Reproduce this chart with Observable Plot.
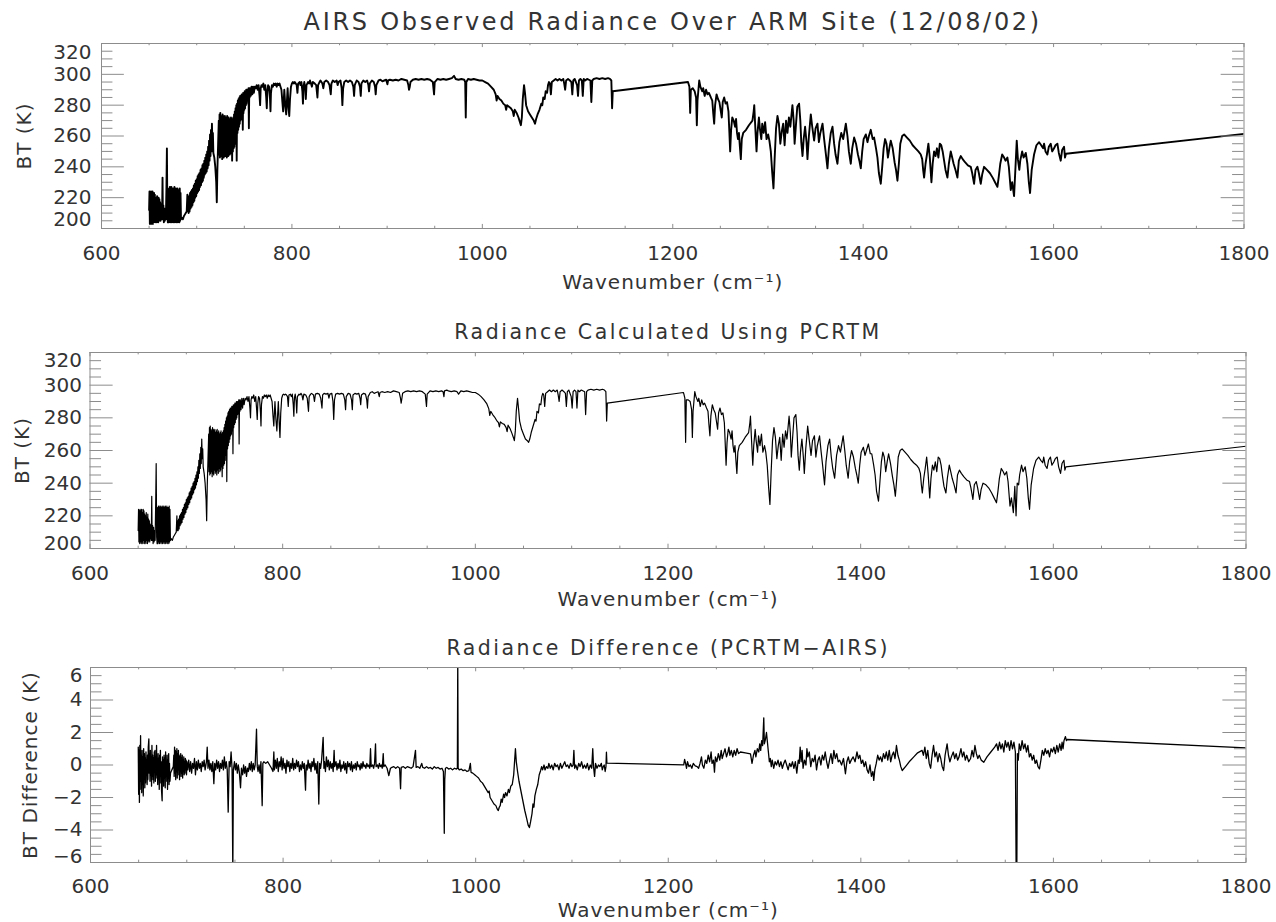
<!DOCTYPE html>
<html><head><meta charset="utf-8">
<script src="https://cdn.jsdelivr.net/npm/d3@7"></script>
<script src="https://cdn.jsdelivr.net/npm/@observablehq/plot@0.6"></script>
<style>
body{margin:0;background:#fff;}
#chart{width:1276px;}
#chart svg{display:block;}
</style></head><body><div id="chart"></div>
<script>
// AIRS observed brightness temperature [wavenumber cm-1, BT K]
const airsObs = [
[650,212],[650.4,224],[650.8,203],[651.2,223],[651.6,204],[652,224],[652.4,203],[652.8,222],[653.2,205],[653.6,224],
[654,203],[654.4,221],[654.8,204],[655.2,223],[655.6,206],[656,222],[656.4,204],[656.8,220],[657.2,205],[657.6,219],
[658,204],[658.4,221],[658.8,206],[659.2,218],[659.6,204],[660,220],[660.4,205],[660.8,219],[661.2,206],[661.6,217],
[662,205],[662.4,216],[662.8,207],[663.2,214],[663.6,206],[664.1,233],[664.5,206],[665,215],[665.5,204],[666,213],
[666.5,205],[667,212],[667.6,206],[668.2,226],[668.7,252],[669.2,208],[669.7,204],
[670.2,224],[670.6,204],[671,226],[671.4,205],[671.8,227],[672.2,204],[672.6,225],[673,205],[673.4,227],[673.8,204],
[674.2,224],[674.6,206],[675,226],[675.4,204],[675.8,225],[676.2,205],[676.6,227],[677,204],[677.4,224],[677.8,205],
[678.2,226],[678.6,204],[679,225],[679.4,206],[679.8,226],[680.2,204],[680.6,225],[681,205],[681.4,224],[681.8,204],
[682.2,226],[682.6,205],[683,223],[683.5,206],
[684.5,207],[685.5,206],[686.5,208],[687.5,209],[688.5,210],[689.5,211],[690.2,222],[690.6,212],
[691,220],[691.5,210],[692,221],[692.5,211],[693,223],[693.5,213],[694,224],[694.5,214],[695,225],[695.5,215],
[696,226],[696.5,217],[697,228],[697.5,218],[698,229],[698.5,220],[699,231],[699.5,221],[700,232],[700.5,223],
[701,234],[701.5,224],[702,235],[702.5,225],[703,236],[703.5,227],[704,238],[704.5,228],[705,239],[705.5,230],
[706,241],[706.5,231],[707,242],[707.5,233],[708,244],[708.5,235],[709,246],[709.5,236],[710,248],[710.5,237],
[711,250],[711.5,239],[712,253],[712.5,241],[713,257],[713.5,244],[714,261],[714.5,247],[715,264],[715.5,250],
[716,268],[716.5,254],[717,262],[717.5,249],[718.5,246],[719.5,240],[720.5,230],[721.1,217],[721.7,238],[722.5,255],[723.2,270],
[723.6,248],[724,274],[724.4,246],[724.8,275],[725.2,247],[725.6,273],[726,248],[726.4,272],[726.8,245],[727.2,274],
[727.6,247],[728,273],[728.4,246],[728.8,272],[729.2,249],[729.6,273],[730,247],[730.4,271],[730.8,248],[731.2,272],
[731.6,246],[732,273],[732.4,249],[732.8,271],[733.2,247],[733.6,272],[734,250],[734.4,270],[734.8,248],[735.2,271],
[735.6,249],[736,272],[736.4,251],[736.8,270],[737.2,244],[737.6,271],[738,250],[738.4,272],[738.8,252],[739.2,274],
[739.6,253],[740,276],[740.4,255],[740.8,278],
[741.2,258],[741.6,280],[742,244],[742.4,281],[742.8,262],[743.2,283],[743.6,264],[744,284],[744.4,266],[744.8,285],
[745.2,268],[745.6,286],[746,270],[746.4,286],[746.8,271],[747.2,287],[747.6,273],[748,287],[748.4,264],[748.8,288],
[749.2,275],[749.6,288],[750,277],[750.4,289],[750.8,278],[751.2,289],[751.6,280],[752,290],[752.4,281],[752.8,290],
[753.2,283],[753.6,290],[754,284],[754.4,291],[754.8,265],[755.2,291],[755.6,285],[756,291],[756.8,286],[757.6,292],
[758.4,287],[759.2,292],[760,288],
[761,292],[762,291],[763,293],[764,290],[765,293],[766,286],[766.6,280],[767.2,291],[768,293],[769,292],
[770,294],[771,290],[772,293],[773,285],[773.6,278],[774.2,289],[775,293],[776,292],[777,284],[777.5,276],
[778,288],[779,293],[780,292],[781,294],[782,293],[783,294],[784,292],[785,294],[786,293],[787,294],
[788,292],[789,290],[790,282],[790.8,276],[791.5,284],[792,290],[793,280],[794,274],[794.7,282],[795.5,291],
[796.5,278],[797.2,273],[798,284],[799,292],[800,294],
[801,295],[802,294],[803,295],[804,294],[805,293],[805.8,288],[806.5,294],[808,295],[809,293],[810,295],
[811,289],[811.6,281],[812.2,292],[813,295],[814,291],[814.6,284],[815.3,293],[817,295],[818,294],[819,296],
[820,294],[821,292],[822,295],[824,294],[825.5,293],[826.8,285],[827.5,293],[829,295],[830,296],[832,294],
[833,291],[834,295],[836,296],[838,295],[839.5,293],[840.8,287],[841.5,294],[843,296],[845,295],[847,296],
[848,293],[849,295],[851,296],[852.2,291],[853,280],[853.8,291],[855,295],[857,296],[859,295],[861,296],
[863,295],[864.5,292],[865.3,286],[866,293],[868,296],[870,295],[871.5,292],[872.3,286],[873,294],[875,296],
[877,295],[879,296],[880.3,293],[881,289],[881.8,294],[884,296],[886,295],[887.3,292],[888,287],[888.7,293],
[891,296],[893,296.5],[895,295.5],[897,296],[899,296.5],[900.3,293.5],[901,296],[903,296.5],[906,296],[909,296.5],
[912,296],[915,297],[918,296.5],[921,296],[922.3,293],[923,290],[923.8,292],[924.5,295],[927,296.5],[930,297],
[933,296.5],[936,297],[939,296.5],[942,297],[945,296.5],[948,295],[949.3,287],[950,295],[953,297],[956,296.5],
[959,297],[962,296.5],[965,297],[968,297.5],[970.3,299],[972,297],[975,296.5],[978,297],[981,296.5],[982,295],
[982.6,272],[983.2,295],[985,297],[988,296.5],[991,297],[994,296.5],[997,296],
[1000,296],[1003,295],[1006,294],[1009,292],[1012,290],[1014,287],[1015,283],[1016,286],[1018,284],[1020,283],
[1022,281],[1024,280],[1025,277],[1026,280],[1028,279],[1030,278],[1032,276],[1033,273],[1034,277],[1036,275],
[1038,272],[1039.5,269],[1040.5,267],[1041.5,272],[1042.5,284],[1043.8,293],[1044.8,288],[1046,280],[1048,276],[1050,274],
[1052,272],[1054,270],[1055.3,268],[1056.5,271],[1058,274],[1060,277],[1062,281],[1063,280],[1064,285],[1065.5,284],
[1066.5,289],[1068,288],
[1069,293],[1070,295],[1071,294],[1072,287],[1073,295],[1075,296],[1077,297],[1079,296],[1081,297],[1083,296],
[1085,297],[1086,294],[1087,290],[1088,296],[1090,297],[1092,296],[1093.5,295],[1094.5,287],[1095.5,296],[1097,297],
[1099.5,293],[1100.5,286],[1101.5,296],[1103,297],[1104.5,296],[1105.5,286],[1106.5,297],[1108,296],[1110,297],[1113.5,296],
[1114.5,282],[1115.5,296],[1117,297],[1120,297.5],[1123,297],[1126,297.5],[1129,297],[1132,297.5],[1134,297],[1135.5,296],
[1136.3,278],[1137,289],
[1216,295],[1216.5,294],[1217.5,292],[1218.3,275],[1219,290],[1221,291],[1223,289],[1224.5,285],[1225.3,267],[1226,283],
[1227.8,296],[1229,292],[1231,289],[1232,291],[1233.5,286],[1235,290],[1236.5,287],[1238,288],[1240,285],[1241.5,283],
[1242.5,275],[1243.5,268],[1244.5,280],[1246,287],[1247.5,284],[1249,282],[1250.5,276],[1251.5,272],[1252.5,282],[1254,285],
[1255.5,281],[1257,282],[1258.5,276],[1259.5,262],[1260.3,250],[1261.3,264],[1262.5,272],[1264,270],[1265.5,266],[1266.5,271],
[1267.5,262],[1268.5,258],[1269.5,262],[1270.5,253],[1271.5,245],[1272.5,258],[1274,262],[1277,264],[1280,267],[1283.7,270],
[1285,276],[1285.6,280],[1286.5,268],[1288,250],[1289,262],[1290.5,272],[1291.5,265],[1293,258],[1294,268],[1295.5,262],
[1297,269],[1298.5,258],[1300.2,261],[1301.5,257],[1303,250],[1304.5,236],[1305.8,226],[1307,245],[1308.5,265],[1310,273],
[1311.5,268],[1313,255],[1314.5,263],[1316,268],[1317.5,254],[1319,270],[1320.5,262],
[1322,272],[1323.5,266],[1325.7,280],[1327,270],[1328,255],[1329.5,268],[1330.8,279],[1332.7,281],[1334,270],[1335,256],
[1336.3,247],[1337.5,258],[1339,266],[1340.5,256],[1341.5,245],[1343,260],[1345,274],[1346.5,266],[1348.5,257],[1350,265],
[1352,268],[1353.5,256],[1355,262],[1357.3,268],[1359,258],[1360.5,250],[1362.5,239],[1364,252],[1366,262],[1367.8,266],
[1369.5,255],[1371,248],[1373,242],[1375,256],[1377,262],[1379,258],[1381.8,268],[1383.5,260],[1385,250],[1387,242],
[1388.5,252],[1390.5,259],[1392.5,255],[1394.5,248],[1396,244],[1397.5,239],[1399,250],[1400.5,258],[1402.8,261],[1404.5,256],
[1406,260],[1408,264],[1410,258],[1411.5,259],[1413.5,252],[1415,246],[1416.5,236],[1418.5,229],[1420,240],
[1421.5,252],[1423,258],[1424.5,255],[1426,246],[1427.5,252],[1429,257],[1431,252],[1433,243],[1434.5,238],[1436,231],
[1437.5,242],[1439,255],[1441,260],[1443,261],[1446,259],[1449,257],[1452,254],[1455,252],[1458,250],[1460.5,248],
[1462,245],[1463,238],[1464,233],[1465.5,242],[1467,248],[1468.5,255],[1470,246],[1471.7,230],[1473,242],
[1474.5,250],[1476,247],[1477.5,252],[1479,246],[1480.5,255],[1482,254],[1483.5,250],[1485,244],[1486.5,238],[1488.5,233],
[1490,242],[1492,250],[1493.5,246],[1495,242],[1497,238],[1499,233],[1500.5,244],[1502.5,247],[1504.5,245],[1507,243],
[1510,241],[1513,240],[1514.5,236],[1516.5,229],[1518,238],[1520,240],[1521.5,236],[1523.5,229],[1525,235],[1527,240],
[1530,238],[1533,236],[1536,233],[1538.5,230],[1541,227],[1542.5,234],[1544,242],[1546,248],[1548,246],[1549.5,244],
[1551.5,246],[1553,240],[1555,225],[1556.5,230],[1558.5,221],[1560,240],[1561.3,257],[1562.5,245],[1564,238],[1565,244],
[1567,250],[1568.5,246],[1570.8,249],[1572.5,242],[1574,230],[1575.3,223],[1577,238],[1579.5,248],[1582,254],[1584.8,256],
[1587,254],[1589,252],[1590,255],[1591.5,250],[1593.5,248],[1595,253],[1597,255],[1598.5,250],[1600.5,252],[1602,254],
[1604,255],[1605.5,249],[1607.5,244],[1609,251],[1611,253],[1612,246],[1613,248.5],[1800,261.4]
];

// PCRTM calculated brightness temperature [wavenumber cm-1, BT K]
const pcrtmCalc = [
[650,211],[650.4,224],[650.8,204],[651.2,223],[651.6,203],[652,224],[652.4,204],[652.8,223],[653.2,203],[653.6,224],
[654,204],[654.4,222],[654.8,203],[655.2,224],[655.6,205],[656,223],[656.4,203],[656.8,221],[657.2,204],[657.6,220],
[658,203],[658.4,222],[658.8,205],[659.2,219],[659.6,203],[660,221],[660.4,204],[660.8,218],[661.2,205],[661.6,217],
[662,204],[662.4,215],[662.8,206],[663.2,214],[663.6,205],[664.1,232],[664.5,205],[665,214],[665.5,203],[666,213],
[666.5,204],[667,211],[667.6,205],[668.2,228],[668.7,252],[669.2,207],[669.7,203],
[670.2,225],[670.6,203],[671,226],[671.4,204],[671.8,226],[672.2,203],[672.6,225],[673,204],[673.4,226],[673.8,203],
[674.2,225],[674.6,204],[675,226],[675.4,203],[675.8,225],[676.2,204],[676.6,226],[677,203],[677.4,225],[677.8,204],
[678.2,226],[678.6,203],[679,225],[679.4,204],[679.8,226],[680.2,203],[680.6,225],[681,204],[681.4,225],[681.8,203],
[682.2,226],[682.6,204],[683,224],[683.5,205],
[684.5,206],[685.5,205],[686.5,207],[687.5,208],[688.5,209],[689.5,210],[690.2,220],[690.6,211],
[691,217],[691.5,211],[692,218],[692.5,212],[693,220],[693.5,214],[694,221],[694.5,215],[695,222],[695.5,216],
[696,224],[696.5,218],[697,225],[697.5,219],[698,227],[698.5,221],[699,228],[699.5,222],[700,230],[700.5,224],
[701,231],[701.5,225],[702,232],[702.5,227],[703,234],[703.5,228],[704,235],[704.5,230],[705,237],[705.5,231],
[706,238],[706.5,233],[707,240],[707.5,234],[708,241],[708.5,236],[709,243],[709.5,237],[710,245],[710.5,239],
[711,247],[711.5,241],[712,250],[712.5,243],[713,254],[713.5,246],[714,258],[714.5,249],[715,262],[715.5,252],
[716,267],[716.5,255],[717,261],[717.5,250],[718.5,246],[719.5,240],[720.5,230],[721.1,217],[721.7,238],[722.5,255],[723.2,270],
[723.6,247],[724,274],[724.4,245],[724.8,275],[725.2,246],[725.6,273],[726,247],[726.4,272],[726.8,244],[727.2,274],
[727.6,246],[728,273],[728.4,245],[728.8,272],[729.2,248],[729.6,273],[730,246],[730.4,271],[730.8,247],[731.2,272],
[731.6,245],[732,273],[732.4,248],[732.8,271],[733.2,246],[733.6,272],[734,249],[734.4,270],[734.8,247],[735.2,271],
[735.6,248],[736,272],[736.4,250],[736.8,270],[737.2,244],[737.6,271],[738,249],[738.4,272],[738.8,251],[739.2,274],
[739.6,252],[740,276],[740.4,254],[740.8,278],
[741.2,257],[741.6,280],[742,241],[742.4,281],[742.8,261],[743.2,283],[743.6,263],[744,284],[744.4,265],[744.8,285],
[745.2,267],[745.6,286],[746,269],[746.4,286],[746.8,270],[747.2,287],[747.6,272],[748,287],[748.4,258],[748.8,288],
[749.2,274],[749.6,288],[750,276],[750.4,289],[750.8,277],[751.2,289],[751.6,279],[752,290],[752.4,280],[752.8,290],
[753.2,282],[753.6,290],[754,283],[754.4,291],[754.8,264],[755.2,291],[755.6,284],[756,291],[756.8,285],[757.6,292],
[758.4,286],[759.2,292],[760,288],
[761,292],[762,291],[763,293],[764,290],[765,293],[766,286],[766.6,280],[767.2,291],[768,293],[769,292],
[770,294],[771,290],[772,293],[773,285],[773.6,279],[774.2,289],[775,293],[776,292],[777,283],[777.5,275],
[778,288],[779,293],[780,292],[781,294],[782,293],[783,294],[784,292],[785,294],[786,293],[787,294],
[788,292],[789,290],[790,281],[790.8,275],[791.5,284],[792,290],[793,279],[794,272],[794.7,281],[795.5,290],
[796.5,276],[797.2,268],[798,283],[799,292],[800,294],
[801,294.5],[802,294],[803,294.5],[804,294],[805,293],[805.8,287],[806.5,294],[808,294.5],[809,293],[810,294.5],
[811,288],[811.6,281],[812.2,292],[813,294.5],[814,290],[814.6,283],[815.3,293],[817,294.5],[818,294],[819,295],
[820,294],[821,291],[822,294.5],[824,294],[825.5,292],[826.8,284],[827.5,293],[829,294.5],[830,295],[832,294],
[833,290],[834,294.5],[836,295],[838,294.5],[839.5,292],[840.8,286],[841.5,294],[843,295],[845,294.5],[847,295],
[848,292],[849,294.5],[851,295],[852.2,290],[853,279],[853.8,291],[855,294.5],[857,295],[859,294.5],[861,295],
[863,294.5],[864.5,291],[865.3,285],[866,293],[868,295],[870,294.5],[871.5,291],[872.3,285],[873,294],[875,295],
[877,294.5],[879,295],[880.3,292],[881,288],[881.8,294],[884,295],[886,294.5],[887.3,291],[888,286],[888.7,293],
[891,295.5],[893,296],[895,295],[897,295.5],[899,296],[900.3,293],[901,295.5],[903,296],[906,295.5],[909,296],
[912,295.5],[915,296.5],[918,296],[921,295.5],[922.3,292],[923,289],[923.8,292],[924.5,295],[927,296],[930,296.5],
[933,296],[936,296.5],[939,296],[942,296.5],[945,296],[948,294.5],[949.3,287],[950,294.5],[953,296.5],[956,296],
[959,296.5],[962,296],[965,296.5],[966.5,296],[967.4,293],[968,296.5],[970.3,297],[972,296.5],[975,296],[978,296.5],
[981,296],[982.6,294.5],[985,296.5],[988,296],[991,296.5],[994,296],[997,295.5],
[1000,295.5],[1003,294.5],[1006,293],[1009,291],[1012,288.5],[1014,285.5],[1015,281.5],[1016,284],[1018,282],[1020,280.5],
[1022,278.5],[1024,277],[1025,274.5],[1026,277.5],[1028,276.5],[1030,276],[1032,274],[1033,271.5],[1034,275.5],[1036,273.5],
[1038,270.5],[1039.5,268],[1040.5,266],[1041.5,272],[1042.5,284],[1043.8,292],[1044.8,286],[1046,278],[1048,273],[1050,270],
[1052,267],[1054,266],[1055.3,265],[1056.5,267],[1058,271],[1060,275],[1062,279],[1063,278],[1064,284],[1065.5,283],
[1066.5,288.5],[1068,288],
[1069,293],[1070,295],[1071,294],[1072,287],[1073,295],[1075,296],[1077,297],[1079,296],[1081,297],[1083,296],
[1085,297],[1086,294],[1087,290],[1088,296],[1090,297],[1092,296],[1093.5,295],[1094.5,287],[1095.5,296],[1097,297],
[1099.5,293],[1100.5,286],[1101.5,296],[1103,297],[1104.5,296],[1105.5,286],[1106.5,297],[1108,296],[1110,297],[1113.5,296],
[1114.5,282],[1115.5,296],[1117,297],[1120,297.5],[1123,297],[1126,297.5],[1129,297],[1132,297.5],[1134,297],[1135.5,296],
[1136.3,278],[1137,289],
[1216,295.5],[1216.5,294.5],[1217.5,292],[1218.3,265],[1219,291],[1221,291],[1223,290],[1224.5,285],[1225.3,268],[1226,284],
[1227.8,296],[1229,293],[1231,290],[1232,292],[1233.5,287],[1235,291],[1236.5,288],[1238,289],[1240,286],[1241.5,284],
[1242.5,276],[1243.5,269],[1244.5,281],[1246,288],[1247.5,285],[1249,283],[1250.5,277],[1251.5,273],[1252.5,283],[1254,286],
[1255.5,282],[1257,283],[1258.5,277],[1259.5,263],[1260.3,251],[1261.3,265],[1262.5,273],[1264,271],[1265.5,267],[1266.5,272],
[1267.5,263],[1268.5,259],[1269.5,263],[1270.5,254],[1271.5,246],[1272.5,259],[1274,263],[1277,265],[1280,268],[1283.7,271],
[1285,277],[1285.6,281],[1286.5,269],[1288,251],[1289,263],[1290.5,273],[1291.5,266],[1293,259],[1294,269],[1295.5,263],
[1297,270],[1298.5,259],[1300.2,263],[1301.5,259],[1303,251],[1304.5,237],[1305.8,227],[1307,246],[1308.5,266],[1310,274],
[1311.5,268],[1313,255],[1314.5,263],[1316,268],[1317.5,254],[1319,270],[1320.5,262],
[1322,272],[1323.5,267],[1325.7,281],[1327,271],[1328,256],[1329.5,269],[1330.8,280],[1332.7,282],[1334,271],[1335,257],
[1336.3,248],[1337.5,259],[1339,267],[1340.5,256],[1341.5,246],[1343,261],[1345,275],[1346.5,267],[1348.5,257],[1350,266],
[1352,269],[1353.5,256],[1355,263],[1357.3,269],[1359,259],[1360.5,251],[1362.5,239],[1364,253],[1366,263],[1367.8,267],
[1369.5,256],[1371,249],[1373,243],[1375,257],[1377,263],[1379,259],[1381.8,269],[1383.5,260],[1385,251],[1387,243],
[1388.5,253],[1390.5,260],[1392.5,256],[1394.5,249],[1396,245],[1397.5,240],[1399,251],[1400.5,259],[1402.8,262],[1404.5,257],
[1406,260],[1408,264],[1410,258],[1411.5,258],[1413.5,251],[1415,245],[1416.5,235],[1418.5,229],[1420,241],
[1421.5,253],[1423,259],[1424.5,256],[1426,247],[1427.5,253],[1429,258],[1431,252],[1433,244],[1434.5,239],[1436,232],
[1437.5,243],[1439,256],[1441,260],[1443,261],[1446,259],[1449,257],[1452,254.5],[1455,252.5],[1458,251],[1460.5,249],
[1462,246],[1463,239],[1464,234],[1465.5,243],[1467,249],[1468.5,256],[1470,246],[1471.7,231],[1473,243],
[1474.5,251],[1476,248],[1477.5,253],[1479,247],[1480.5,256],[1482,255],[1483.5,251],[1485,244],[1486.5,238],[1488.5,234],
[1490,243],[1492,251],[1493.5,247],[1495,243],[1497,239],[1499,234],[1500.5,245],[1502.5,248],[1504.5,246],[1507,244],
[1510,242],[1513,241],[1514.5,237],[1516.5,230],[1518,239],[1520,241],[1521.5,237],[1523.5,230],[1525,236],[1527,240],
[1530,239],[1533,237],[1536,234],[1538.5,231],[1541,228],[1542.5,235],[1544,243],[1546,249],[1548,247],[1549.5,245],
[1551.5,247],[1553,241],[1555,226],[1556.5,231],[1558.5,222],[1560,238],[1561.3,220],[1562.5,240],[1564,239],[1565,245],
[1567,251],[1568.5,247],[1570.8,250],[1572.5,243],[1574,231],[1575.3,224],[1577,239],[1579.5,249],[1582,254],[1584.8,256],
[1587,254],[1589,252.5],[1590,256],[1591.5,251],[1593.5,249],[1595,254],[1597,256],[1598.5,251],[1600.5,253],[1602,255],
[1604,256],[1605.5,250],[1607.5,246],[1609,252],[1611,254],[1612,248],[1613,250],[1800,262.6]
];

// Brightness temperature difference PCRTM - AIRS [wavenumber cm-1, K]
const btDiff = [
[649.6,1.1],[650,-1.8],[650.4,0.9],[650.8,-2.3],[651.2,1.2],[651.6,-1.5],[652,1.8],[652.4,-1.0],[652.8,0.6],[653.2,-1.7],
[653.6,0.9],[654,-1.2],[654.4,0.5],[654.8,-1.9],[655.2,1.0],[655.6,-0.8],[656,0.7],[656.4,-1.4],[656.8,0.4],[657.2,-1.1],
[657.6,0.8],[658,-0.6],[658.4,0.3],[658.8,-1.2],[659.2,0.6],[659.6,-0.9],[660,1.1],[660.6,1.6],[661,-0.5],[661.4,0.7],
[661.8,-1.0],[662.2,0.9],[662.6,-0.6],[663,0.5],[663.4,-1.3],[663.8,1.2],[664.2,-0.7],[664.6,0.6],[665,-0.9],[665.4,0.4],
[665.8,-1.1],[666.2,0.8],[666.6,-0.4],[667,0.9],[667.4,-1.0],[667.8,0.5],[668.2,-0.6],[668.6,1.2],[669,-0.8],[669.4,0.3],
[669.8,-1.2],[670.2,0.7],[670.6,-0.9],[671,0.4],[671.4,-1.5],[671.8,0.6],[672.2,-0.7],[672.6,0.9],[673,-1.1],[673.4,0.2],
[673.8,-1.6],[674.4,-2.2],[674.8,0.5],[675.2,-0.9],[675.6,0.3],[676,-1.3],[676.4,0.6],[676.8,-0.5],[677.2,0.4],[677.6,-1.4],
[678,0.8],[678.4,-0.7],[678.8,0.2],[679.2,-1.0],[679.6,0.6],[680,-1.5],[680.4,0.3],[680.8,-0.8],[681.2,0.7],[681.6,-1.2],
[682,0.1],[682.5,-1.0],[683.1,-0.5],[684.5,-0.3],[686,-0.1],
[686.5,0.6],[686.9,-0.7],[687.3,1.1],[687.7,-0.5],[688.1,0.9],[688.5,-0.9],[688.9,0.8],[689.3,-0.4],[689.7,1.0],[690.1,-0.8],
[690.5,0.7],[690.9,-0.3],[691.3,0.9],[691.7,-0.6],[692.1,0.6],[692.5,-0.9],[692.9,0.5],[693.3,-0.4],[693.7,0.7],[694.1,-0.7],
[694.5,0.4],[694.9,-0.5],[695.3,0.6],[695.7,-0.8],[696.1,0.3],[696.5,-0.4],[696.9,0.5],[697.3,-0.6],[697.7,0.2],[698.1,-0.5],
[698.5,0.4],[698.9,-0.3],[699.3,0.3],[699.7,-0.6],[700.2,0.2],
[701,-0.3],[702,0.3],[703,-0.4],[704,0.2],[705,-0.5],[706,0.1],[707,-0.2],[708,0.4],[709,-0.6],[710,0.2],
[711,-0.3],[712,0.3],[713,-0.2],[714,0.1],[715,-0.4],[716,0.2],[717,-0.1],[718,0.3],[719,-0.3],[720.4,0.2],
[721.2,1.1],[722,-0.2],[723,0.3],[724,-0.3],[725,0.1],[726,-0.4],[727,0.2],[728.1,-1.15],[729,0.1],[730,-0.3],
[731,0.3],[732,-0.2],[733,0.2],[734,-0.4],[735,0.1],[736,-0.2],[737,0.3],[738,-0.3],[739,0.5],[740,-0.2],
[741,0.2],[742,-0.3],[743,-2.9],[744,0.2],[745,-0.1],[746,0.8],[747,-0.2],[747.8,-6.6],[748.4,-0.3],[749.5,0.2],
[750.5,-0.3],[751.5,0.1],[752.5,-0.5],[753.5,0.0],[754.5,-0.4],[755.8,-1.4],[756.8,-0.2],[758,-0.6],[759,0.0],[760,-0.5],
[761,-0.1],[762,-0.7],[763,-0.2],[764,-0.4],[765,0.1],[766,-0.3],[767,0.2],[768,-0.4],[769,0.1],[770,-0.3],
[771,0.0],[772.4,2.2],[773.2,-0.1],[774,-0.4],[775,0.0],[776,-0.5],[777,0.2],[778.3,-2.5],[779,0.1],[780,0.2],
[782,0.1],[784,0.2],[786,0.0],[788,-0.2],[789.5,-0.4],[790.4,0.8],[791,-0.3],
[792,0.3],[793,-0.2],[794,0.4],[795,-0.4],[796,0.2],[797,-0.1],[798,0.5],[799,-0.3],[800,0.4],[801,-0.2],
[802,0.1],[803,-0.5],[804,0.3],[805,-0.1],[806,0.2],[807,-0.4],[808,0.1],[809,-0.2],[810,0.4],[811,-0.3],
[812,0.1],[813,-0.2],[814,0.3],[815,-0.1],[816,0.2],[817,-0.4],[818,0.0],[819,-0.3],[820,0.2],[821,-0.2],
[822,0.1],[823.3,-1.55],[824,0.0],[825,-0.3],[826,0.3],[827,-0.2],[828,0.1],[829,-0.4],[830,0.2],[831,-0.1],
[832,0.4],[833,-0.3],[834,0.1],[835,-0.5],[836,0.2],[837.1,-2.4],[838,0.1],[839,-0.2],[840,0.3],[841.6,1.7],
[842.4,-0.2],[843,0.2],[844,-0.4],[845,0.5],[846,-0.1],[847,0.3],[848,-0.3],[849,0.2],[850,-0.2],
[851,0.1],[852,-0.4],[853,0.9],[853.6,-0.1],[855,0.2],[856,-0.3],[857,0.1],[858,-0.2],[859,0.3],[860,-0.4],
[861,0.0],[862,-0.2],[863,0.2],[864,-0.3],[865,0.1],[866,-0.5],[867,0.2],[868,-0.1],[869,0.1],[870,-0.3],
[871,0.2],[872,-0.4],[873,0.0],[874,-0.2],[875,0.1],[876,-0.3],[877,0.2],[878,-0.1],[879,0.0],[880,-0.3],
[881,0.1],[882,-0.2],[883,0.2],[884,-0.1],[885,0.0],[886,-0.2],[887,0.1],[888,-0.1],[889,0.0],[890,-0.2],
[890.8,1.0],[891.5,-0.1],[893,0.0],[894,-0.2],[895,0.1],[896,1.3],[896.6,-0.1],[898,0.0],[899,-0.2],[900,0.1],
[901,-0.1],[902,0.0],[903,-0.2],[904,0.7],[904.6,-0.1],[906,0.0],[908,-0.2],[909.8,-0.65],[911.5,-0.2],
[913,-0.15],[915,-0.1],[917,-0.2],[919,-0.1],[921,-0.2],[922,-1.46],[922.7,-0.15],[925,-0.1],[927,-0.2],[929,-0.1],
[931,-0.15],[933,-0.2],[935,-0.1],[937.5,0.9],[938.2,-0.15],[940,-0.1],[942,-0.2],[944,0.1],[945,-0.15],[947,-0.2],
[949,-0.1],[951,-0.2],[953,-0.15],[955,-0.25],[957,-0.1],[959,-0.2],[961,-0.15],[963,-0.25],[965,-0.2],[966.5,-0.4],
[967.4,-4.2],[967.9,-0.9],[968.6,-0.2],[970,-0.15],[972,-0.25],[974,-0.2],[976,-0.3],[978,-0.2],[980,-0.25],[981,-0.2],
[981.4,6.6],[981.8,-0.2],
[983,-0.3],[985,-0.25],[987,-0.35],[989,-0.3],[991,-0.4],[993,-0.35],[994.5,0.1],[995.2,-0.45],[997,-0.5],[999,-0.6],
[1001,-0.7],[1003,-0.8],[1005,-1.0],[1007,-1.1],[1009,-1.3],[1011,-1.5],[1013,-1.7],[1014,-1.6],[1015,-2.0],[1017,-2.2],
[1019,-2.4],[1021,-2.5],[1022.3,-2.7],[1023.5,-2.8],[1024.5,-2.6],[1025.5,-2.5],[1026.5,-2.1],[1027.5,-2.3],[1029,-1.8],[1030,-2.0],
[1031,-1.7],[1032.5,-1.9],[1034,-1.5],[1035,-1.7],[1036.5,-1.3],[1038,-1.2],[1039.5,-0.6],[1040.5,0.3],[1041.3,1.0],[1042.2,0.2],
[1043.5,-0.4],[1045,-1.0],[1047,-1.6],[1049,-2.2],[1051,-2.8],[1053,-3.3],[1054.5,-3.7],[1055.8,-3.85],[1057,-3.5],[1058.5,-3.0],
[1059.5,-2.4],[1060.5,-2.6],[1061.5,-1.9],[1063,-1.5],[1064.5,-1.2],[1066,-0.6],[1067.4,-0.35],
[1068.5,-0.1],[1069.5,-0.3],[1071,0.0],[1072,-0.3],[1073.5,-0.1],[1075,-0.2],[1076,0.1],[1077.5,-0.2],[1079,0.0],[1080.5,-0.3],
[1082,0.1],[1083.5,-0.1],[1085,0.0],[1086.5,-0.3],[1088,0.1],[1089.5,-0.2],[1091,0.0],[1092.5,0.2],[1094,-0.1],[1095.5,0.0],
[1097,-0.2],[1098.5,0.1],[1100,-0.1],[1101.2,0.0],[1102,0.9],[1102.8,-0.2],[1104,0.0],[1105.5,-0.3],[1107,0.1],[1108.5,-0.1],
[1110,0.2],[1111.5,-0.2],[1113,0.0],[1114.5,-0.2],[1116,0.1],[1117.5,-0.3],[1119,0.0],[1120.5,-0.2],[1121.6,1.0],[1122.4,-0.1],
[1123.5,-0.7],[1124.5,0.1],[1126,-0.2],[1127.5,0.0],[1129,-0.1],[1130.5,0.1],[1131.5,-0.3],[1132.5,-0.1],[1133.5,0.0],[1134.5,-0.4],
[1135.3,-0.1],[1135.8,0.79],[1136.3,0.11],
[1216.1,0.01],[1217,0.35],[1218,0.1],[1219,-0.2],[1220,0.2],[1221.5,-0.1],[1223,0.0],[1224.5,-0.2],[1226,0.1],[1228,-0.05],
[1230,-0.1],[1231.5,-0.2],[1233,0.1],[1234.5,0.5],[1235.5,0.0],[1237,-0.2],[1238.5,0.3],[1240,0.1],[1241.5,0.6],[1243,0.2],
[1244.5,0.8],[1245.5,0.1],[1247,0.3],[1248,-0.44],[1249,0.5],[1250.5,0.2],[1252,0.7],[1253.5,0.3],[1255,0.9],[1256,0.4],
[1257.5,0.7],[1259,1.0],[1260.5,0.5],[1262,0.8],[1263,1.1],[1264,0.6],[1265.5,0.9],[1267,0.5],[1268.5,0.9],[1270,0.6],
[1271.5,1.0],[1273,0.7],[1275,0.8],[1280,0.75],[1285.4,0.69],[1287,0.1],[1288.5,0.6],[1290,0.9],[1291,0.5],[1292.5,1.0],
[1294,0.8],[1295,1.3],[1296,0.9],[1297,1.5],[1298,1.2],[1299.2,2.9],[1299.8,1.3],[1301,1.6],[1302,2.0],[1303,1.4],
[1304,0.8],[1305,0.2],
[1306,0.4],[1307,-0.1],[1308,0.3],[1309.5,-0.2],[1311,0.2],[1312.5,0.0],[1314,0.3],[1315.5,-0.1],[1317,0.2],[1318.5,-0.2],
[1320,0.1],[1321.5,0.3],[1323,0.0],[1324.5,-0.3],[1326,0.1],[1327.5,-0.1],[1329,0.2],[1330.5,-0.2],[1332,0.2],[1333.5,-0.5],
[1335,0.3],[1336,0.1],[1337,1.1],[1338,0.2],[1339,0.9],[1340,-0.2],[1341.5,0.3],[1343,0.0],[1344,1.0],[1345,0.5],
[1346.5,0.8],[1348,-0.1],[1349.5,0.4],[1351,0.2],[1352.5,0.6],[1354,-0.3],[1355.5,0.3],[1357,0.5],[1358.5,0.0],[1360,0.6],
[1361.5,0.3],[1363,0.8],[1364.5,0.2],[1366,-0.2],[1367.5,0.3],[1369,0.7],[1370.5,0.1],[1372,0.9],[1373.5,0.4],[1375,0.7],
[1376.5,0.2],[1378,0.3],[1380,0.0],[1382,0.4],[1384,-0.54],[1385.5,0.2],[1387,0.5],[1388.5,0.1],[1390,0.3],[1392,0.5],
[1394,0.2],[1396,0.8],[1397.5,0.4],[1399,0.6],
[1400.5,0.1],[1402,0.3],[1403.5,-0.1],[1405,0.2],[1406.5,-0.3],[1408,-0.5],[1409.5,0.0],[1411,-0.7],[1412.5,-0.4],[1413.4,-0.95],
[1414.5,-0.3],[1416,0.1],[1417.5,0.6],[1419,0.3],[1420.5,0.5],[1422,0.2],[1423.5,0.7],[1425,0.4],[1426.5,0.8],[1428,0.3],
[1429.5,0.9],[1431,0.2],[1432.5,0.6],[1434,0.8],[1435.5,0.4],[1437,1.2],[1438.5,0.6],[1440,0.3],[1441.5,-0.1],[1443,-0.34],
[1447,-0.05],[1451,0.25],[1455,0.5],[1459,0.75],[1463.6,0.9],
[1465,0.6],[1466.5,1.1],[1468,0.4],[1469.5,0.9],[1471,0.1],[1472.5,-0.2],[1474,0.6],[1475.5,1.2],[1477,0.5],[1478.5,0.8],
[1480,0.2],[1481.5,0.7],[1483,0.4],[1484.5,-0.1],[1486,-0.34],[1487.5,0.6],[1489.6,1.3],[1491,0.6],[1492.5,0.2],[1494,0.5],
[1496,0.8],[1497.5,0.4],[1499,0.7],[1500.5,0.3],[1502,0.5],[1504,1.0],[1505.5,0.5],[1507,0.8],[1508.5,0.3],[1510,0.6],
[1512,0.2],[1514,0.4],[1515.5,0.9],[1517,0.5],[1518.5,1.2],[1520,0.7],[1521.5,0.4],[1523,0.6],[1525,0.3],[1527.7,0.17],
[1531,0.5],[1535,0.8],[1539,1.1],[1541,1.3],[1542.5,0.9],[1544,1.4],[1545.5,1.0],[1547,1.3],[1548.5,0.8],[1550,1.5],
[1551.5,1.1],[1553,1.4],[1554.5,0.9],[1556,1.5],[1557.5,1.0],[1559,1.4],[1560.5,0.8],[1561.3,-6.6],[1562,-6.6],[1562.6,0.7],
[1563.5,0.3],[1564.5,1.3],[1566,0.9],[1567.5,1.5],[1569,1.0],[1570.5,1.3],[1572,0.8],[1573.5,1.2],[1575,0.5],[1576.5,0.7],
[1578,0.3],[1579.5,0.6],[1581,0.1],[1582.5,0.3],[1584,-0.1],[1585.5,-0.24],[1587,0.3],[1588.5,0.9],[1590,0.6],[1591.5,1.0],
[1593,0.7],[1594.5,0.9],[1596,0.5],[1597.5,1.0],[1599,0.8],[1600.5,1.1],[1602,0.7],[1603.5,1.2],[1605,0.8],[1606.5,1.3],
[1608,0.9],[1609,1.4],[1610,1.0],[1611,1.5],[1612.5,1.75],[1613.5,1.5],[1614.2,1.57],[1800,1.05]
];

const xTicks = [600, 800, 1000, 1200, 1400, 1600, 1800];
const btTicks = [200, 220, 240, 260, 280, 300, 320];
const diffTicks = [-6, -4, -2, 0, 2, 4, 6];
const panelTitles = [
  "AIRS Observed Radiance Over ARM Site (12/08/02)",
  "Radiance Calculated Using PCRTM",
  "Radiance Difference (PCRTM\u2212AIRS)"
];
const xLabel = "Wavenumber (cm\u207B\u00B9)";
const yLabels = ["BT (K)", "BT (K)", "BT Difference (K)"];

const W = 1276;
const AX = "#8c8c8c";
const TXT = "#333";
const FONT = "'DejaVu Sans', 'Liberation Sans', sans-serif";

function panel(o) {
  const iw = W - o.ml - o.mr, ih = o.height - o.mt - o.mb;
  const yMajor = o.yTicks;
  const yMinor = d3.range(o.yDomain[0], o.yDomain[1] + 1e-9, o.yStep).filter(v => !yMajor.some(t => Math.abs(t - v) < 1e-9));
  const xMinor = d3.range(600, 1801, 50).filter(v => !xTicks.includes(v));
  const yMaj = 0.02 * iw, yMin = 0.01 * iw;
  const xMaj = 0.022 * ih, xMin = 0.012 * ih;
  const svg = Plot.plot({
    width: W, height: o.height,
    marginTop: o.mt, marginBottom: o.mb, marginLeft: o.ml, marginRight: o.mr,
    style: {fontFamily: FONT, fontSize: "20px", color: TXT, background: "#fff", overflow: "visible"},
    x: {domain: [600, 1800], axis: null},
    y: {domain: o.yDomain, axis: null},
    marks: [
      Plot.line(o.data, {x: d => d[0], y: d => d[1], stroke: "#000", strokeWidth: o.sw, strokeLinejoin: "round", clip: true}),
      Plot.tickY(yMajor, {y: d => d, stroke: AX, insetRight: iw - yMaj}),
      Plot.tickY(yMajor, {y: d => d, stroke: AX, insetLeft: iw - yMaj}),
      Plot.tickY(yMinor, {y: d => d, stroke: AX, insetRight: iw - yMin}),
      Plot.tickY(yMinor, {y: d => d, stroke: AX, insetLeft: iw - yMin}),
      Plot.tickX(xTicks, {x: d => d, stroke: AX, insetTop: ih - xMaj}),
      Plot.tickX(xTicks, {x: d => d, stroke: AX, insetBottom: ih - xMaj}),
      Plot.tickX(xMinor, {x: d => d, stroke: AX, insetTop: ih - xMin}),
      Plot.tickX(xMinor, {x: d => d, stroke: AX, insetBottom: ih - xMin}),
      Plot.frame({stroke: AX}),
      Plot.axisX({ticks: xTicks, tickSize: 0, tickPadding: o.xPad, tickFormat: d => String(d), fill: TXT}),
      Plot.axisY({ticks: yMajor.slice(1, -1), tickSize: 0, tickPadding: o.yPad, fill: TXT}),
      Plot.axisY({ticks: yMajor.slice(-1), tickSize: 0, tickPadding: o.yPad, dy: o.topDy, fill: TXT}),
      Plot.axisY({ticks: yMajor.slice(0, 1), tickSize: 0, tickPadding: o.yPad, dy: o.botDy, fill: TXT}),
      Plot.text([o.title], {text: d => d, frameAnchor: "top", lineAnchor: "middle", dy: o.titleDy, fontSize: o.titleSize, fill: TXT}),
      Plot.text([xLabel], {text: d => d, frameAnchor: "bottom", lineAnchor: "middle", dy: o.xLabelDy, fontSize: 20, fill: TXT}),
      Plot.text([o.yLabel], {text: d => d, frameAnchor: "left", lineAnchor: "middle", textAnchor: "middle", dx: o.yLabelX - o.ml, rotate: -90, fontSize: 20, fill: TXT})
    ]
  });
  d3.select(svg).selectAll("text").filter(function() { return this.textContent === o.title; })
    .attr("letter-spacing", o.titleLS);
  d3.select(svg).selectAll("text").filter(function() { return this.textContent === o.yLabel || this.textContent === xLabel; })
    .attr("letter-spacing", 1);
  return svg;
}

const chart = document.getElementById("chart");
chart.appendChild(panel({
  data: airsObs, title: panelTitles[0], yLabel: yLabels[0], yDomain: [200, 320], yTicks: btTicks, yStep: 5,
  height: 300, mt: 43, mb: 72, ml: 101, mr: 32.5, sw: 1.9,
  titleDy: -21, titleSize: 24, titleLS: 2.7, xLabelDy: 54, yLabelX: 24, topDy: 9, botDy: -9, xPad: 17, yPad: 10
}));
chart.appendChild(panel({
  data: pcrtmCalc, title: panelTitles[1], yLabel: yLabels[1], yDomain: [200, 320], yTicks: btTicks, yStep: 5,
  height: 320, mt: 52, mb: 72, ml: 89.5, mr: 30.5, sw: 1.2,
  titleDy: -20, titleSize: 20.5, titleLS: 2.5, xLabelDy: 51, yLabelX: 22, topDy: 8, botDy: -5, xPad: 17, yPad: 8
}));
chart.appendChild(panel({
  data: btDiff, title: panelTitles[2], yLabel: yLabels[2], yDomain: [-6, 6], yTicks: diffTicks, yStep: 0.5,
  height: 302, mt: 47, mb: 60, ml: 90, mr: 30.5, sw: 1.3,
  titleDy: -19, titleSize: 20.5, titleLS: 2.5, xLabelDy: 48, yLabelX: 30, topDy: 8, botDy: -6, xPad: 16, yPad: 8
}));
</script>
</body></html>
